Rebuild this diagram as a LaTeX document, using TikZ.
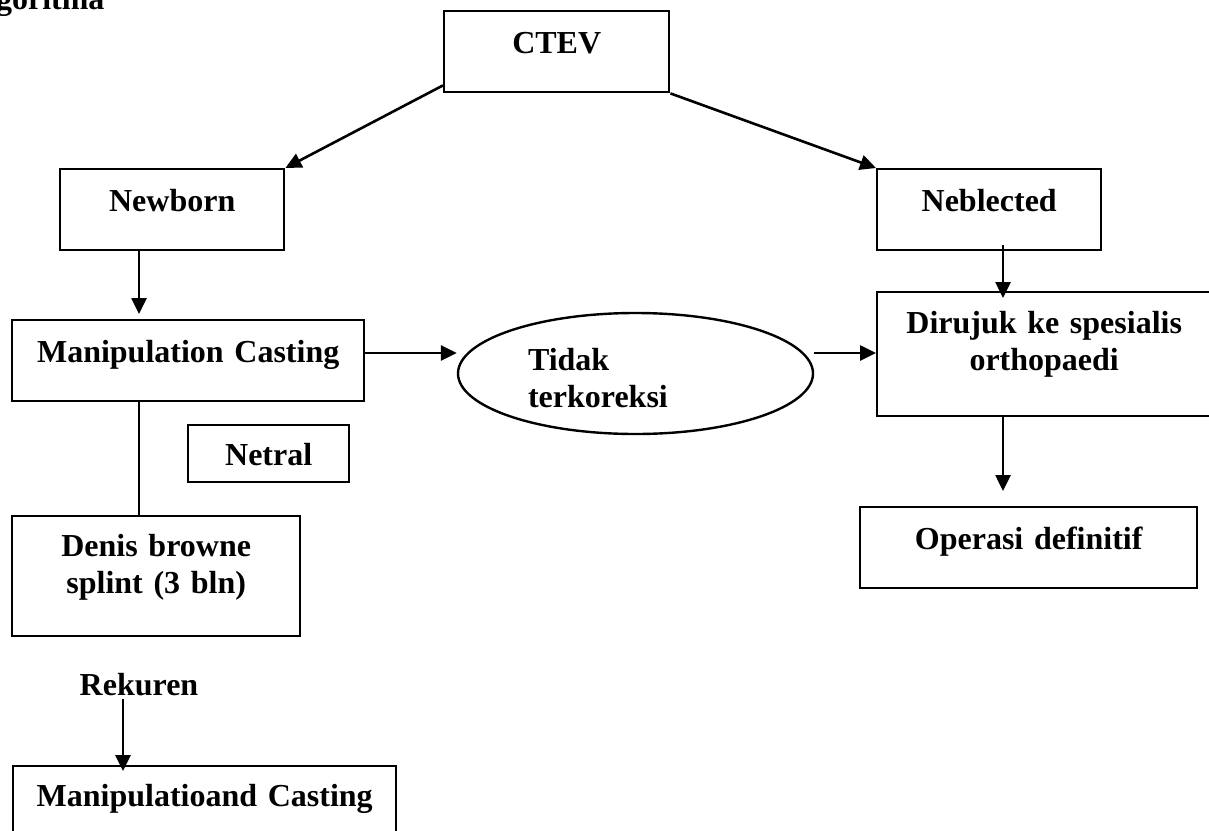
\documentclass[tikz,border=0pt]{standalone}
\usepackage{fontspec}
\setmainfont{Liberation Serif}
\usepackage{tikz}
\usetikzlibrary{positioning}
\usetikzlibrary{arrows.meta}
\usetikzlibrary{shapes.geometric}

\tikzset{
	box/.style={draw, line width=2.4pt, inner sep=0pt, align=center},
	oval/.style={draw, ellipse, line width=2.4pt, inner sep=0pt, align=left},
	arr/.style={line width=2.6pt, -{Triangle[length=16pt,width=15pt]}},
	plain/.style={line width=2.6pt}
}

\begin{document}
\begin{tikzpicture}[x=1pt, y=-1pt, font=\fontsize{32}{37.5}\selectfont\bfseries]
	%% page size of the reference
	\useasboundingbox (0,0) rectangle (1209,830);
	\clip (0,0) rectangle (1209,830);

	%% columns used by the vertical connectors
	\coordinate (colA) at (139,0);
	\coordinate (colB) at (1003,0);
	\coordinate (colC) at (123,0);
	\coordinate (rowT) at (0,353);

	\node[anchor=base east] (algoritma) at (108,9) {Algoritma};

	%% the boxes
	\node[box, anchor=north west, text width=225pt, text height=42pt, text depth=39pt] (ctev) at (443,10) {CTEV};
	\node[box, anchor=north west, text width=224pt, text height=42pt, text depth=39pt] (newborn) at (59,168) {Newborn};
	\node[box, anchor=north west, text width=224pt, text height=42pt, text depth=39pt] (neblected) at (876,168) {Neblected};
	\node[box, anchor=north west, text width=352pt, text height=42pt, text depth=39pt] (manip) at (11,319) {Manipulation Casting};
	\node[oval, minimum width=355pt, minimum height=121pt, text width=215pt, text height=20pt, text depth=27pt] (tidak) at (635.5,373.5) {Tidak\\terkoreksi};
	\node[box, anchor=north west, text width=334pt, text height=41pt, text depth=83pt] (dirujuk) at (876,291) {Dirujuk ke spesialis\\orthopaedi};
	\node[box, anchor=north west, text width=161pt, text height=40pt, text depth=17pt] (netral) at (187,424) {Netral};
	\node[box, anchor=north west, text width=288pt, text height=40pt, text depth=80pt] (denis) at (11,515) {Denis browne\\splint (3 bln)};
	\node[box, anchor=north west, text width=337pt, text height=42pt, text depth=39pt] (operasi) at (859,506) {Operasi definitif};
	\node[anchor=base] (rekuren) at (139,695) {Rekuren};
	\node[box, anchor=north west, text width=383pt, text height=40pt, text depth=46pt] (manipb) at (12,765) {Manipulatioand Casting};

	%% connectors
	\draw[arr] ([yshift=8pt]ctev.south west) -- (newborn.north east);
	\draw[arr] (ctev.south east) -- (neblected.north west);
	\draw[arr, shorten >=5pt] (newborn.south -| colA) -- (manip.north -| colA);
	\draw[arr] (manip.east |- rowT) -- (tidak.west |- rowT);
	\draw[arr] (tidak.east |- rowT) -- (dirujuk.west |- rowT);
	\draw[arr, shorten <=-6pt, shorten >=-7pt] (neblected.south -| colB) -- (dirujuk.north -| colB);
	\draw[arr, shorten >=15pt] (dirujuk.south -| colB) -- (operasi.north -| colB);
	\draw[plain] (manip.south -| colA) -- (denis.north -| colA);
	\draw[arr, shorten >=-6pt] (rekuren.south -| colC) -- (manipb.north -| colC);
\end{tikzpicture}
\end{document}
